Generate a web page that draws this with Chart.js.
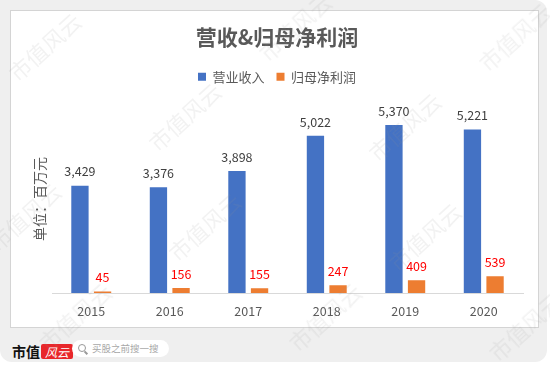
<!DOCTYPE html>
<html>
<head>
<meta charset="utf-8">
<script src="https://cdn.jsdelivr.net/npm/chart.js@4.4.0/dist/chart.umd.min.js"></script>
<style>
    html, body { margin: 0; padding: 0; background: #ffffff; }
    body { width: 550px; height: 367px; position: relative; overflow: hidden;
           font-family: 'Noto Sans CJK SC', sans-serif; }
    .frame { position: absolute; left: 0; top: 0; width: 547px; height: 362px;
             background: #efefef; border-radius: 0 12px 12px 12px; }
    .card { position: absolute; left: 10px; top: 10px; width: 527px; height: 316px;
            background: #ffffff; border: 1px solid #d4d4d4; }
    .card canvas { position: absolute; left: 0; top: 0; }
    .wm { position: absolute; color: rgba(150, 150, 150, 0.12); font-size: 22px;
          transform: rotate(-42deg); white-space: nowrap; pointer-events: none; z-index: 5; }
    .brand { position: absolute; left: 12px; top: 341px; font-size: 14px; font-weight: bold;
             color: #111; font-family: 'Noto Sans CJK SC', serif; }
    .brand .red { display: inline-block; background: #e8262a; color: #fff; font-style: italic;
                  font-weight: normal; font-size: 12px; padding: 0 4px; margin-left: 1px;
                  border-radius: 2px; line-height: 15px; }
    .search { position: absolute; left: 72px; top: 340px; width: 97px; height: 17px;
              background: #fff; border-radius: 9px; font-size: 9.5px; color: #a8a8a8;
              line-height: 17px; }
    .search .icon { position: absolute; left: 6px; top: 4px; width: 6px; height: 6px;
                    border: 1.3px solid #999; border-radius: 50%; }
    .search .icon:after { content: ''; position: absolute; left: 6px; top: 6px; width: 1.5px;
                          height: 4px; background: #999; transform: rotate(-45deg); }
    .search span { position: absolute; left: 20px; top: 0; }
</style>
</head>
<body>
<div class="frame"></div>
<div class="card"><canvas id="chart" width="527" height="316"></canvas></div>

<div class="wm" style="left:0px;top:30px;">市值风云</div>
<div class="wm" style="left:250px;top:10px;">市值风云</div>
<div class="wm" style="left:470px;top:20px;">市值风云</div>
<div class="wm" style="left:140px;top:100px;">市值风云</div>
<div class="wm" style="left:360px;top:110px;">市值风云</div>
<div class="wm" style="left:-20px;top:200px;">市值风云</div>
<div class="wm" style="left:160px;top:210px;">市值风云</div>
<div class="wm" style="left:380px;top:220px;">市值风云</div>
<div class="wm" style="left:30px;top:300px;">市值风云</div>
<div class="wm" style="left:280px;top:300px;">市值风云</div>
<div class="wm" style="left:480px;top:310px;">市值风云</div>

<div class="brand">市值<span class="red">风云</span></div>
<div class="search"><div class="icon"></div><span>买股之前搜一搜</span></div>

<script>
// Chart data
const years = ['2015', '2016', '2017', '2018', '2019', '2020'];
const revenue = [3429, 3376, 3898, 5022, 5370, 5221];
const netProfit = [45, 156, 155, 247, 409, 539];
const seriesNames = ['营业收入', '归母净利润'];

const FONT = "'Noto Sans CJK SC', 'Noto Sans', sans-serif";

// Draw value labels above each bar
const valueLabels = {
    id: 'valueLabels',
    afterDatasetsDraw(chart) {
        const ctx = chart.ctx;
        ctx.save();
        ctx.textAlign = 'center';
        ctx.textBaseline = 'middle';
        ctx.font = `12.5px ${FONT}`;
        chart.data.datasets.forEach((ds, i) => {
            const meta = chart.getDatasetMeta(i);
            ctx.fillStyle = ds.labelColor;
            meta.data.forEach((bar, j) => {
                ctx.fillText(ds.data[j].toLocaleString('en-US'), bar.x, bar.y - 14);
            });
        });
        ctx.restore();
    }
};

// Extra space under the legend
const legendMargin = {
    id: 'legendMargin',
    beforeInit(chart) {
        const fit = chart.legend.fit;
        chart.legend.fit = function () {
            fit.bind(chart.legend)();
            this.height += 12;
        };
    }
};

new Chart(document.getElementById('chart'), {
    type: 'bar',
    data: {
        labels: years,
        datasets: [{
            label: seriesNames[0],
            data: revenue,
            backgroundColor: '#4472C4',
            labelColor: '#404040',
            barPercentage: 0.766,
            categoryPercentage: 0.576
        }, {
            label: seriesNames[1],
            data: netProfit,
            backgroundColor: '#ED7D31',
            labelColor: '#FF0000',
            barPercentage: 0.766,
            categoryPercentage: 0.576
        }]
    },
    options: {
        responsive: false,
        animation: false,
        layout: { padding: { left: 20, right: 15, top: 13, bottom: 8 } },
        plugins: {
            title: {
                display: true,
                text: '营收&归母净利润',
                color: '#595959',
                font: { family: FONT, size: 21, weight: 'bold' },
                padding: { top: 0, bottom: 9 }
            },
            legend: {
                labels: {
                    color: '#595959',
                    font: { family: FONT, size: 13 },
                    boxWidth: 8,
                    boxHeight: 8,
                    padding: 12
                }
            },
            tooltip: { enabled: false }
        },
        scales: {
            x: {
                grid: { display: false },
                border: { color: '#d9d9d9' },
                ticks: { color: '#595959', font: { family: FONT, size: 12.5 }, padding: 3 },
                afterFit: (scale) => { scale.height = 26; }
            },
            y: {
                min: 0,
                max: 6000,
                grid: { display: false },
                border: { display: false },
                ticks: { display: false },
                title: {
                    display: true,
                    text: '单位：百万元',
                    color: '#595959',
                    font: { family: FONT, size: 14 },
                    padding: { top: 0, bottom: 0 }
                },
                afterFit: (scale) => { scale.width = 21; }
            }
        }
    },
    plugins: [valueLabels, legendMargin]
});
</script>
</body>
</html>
